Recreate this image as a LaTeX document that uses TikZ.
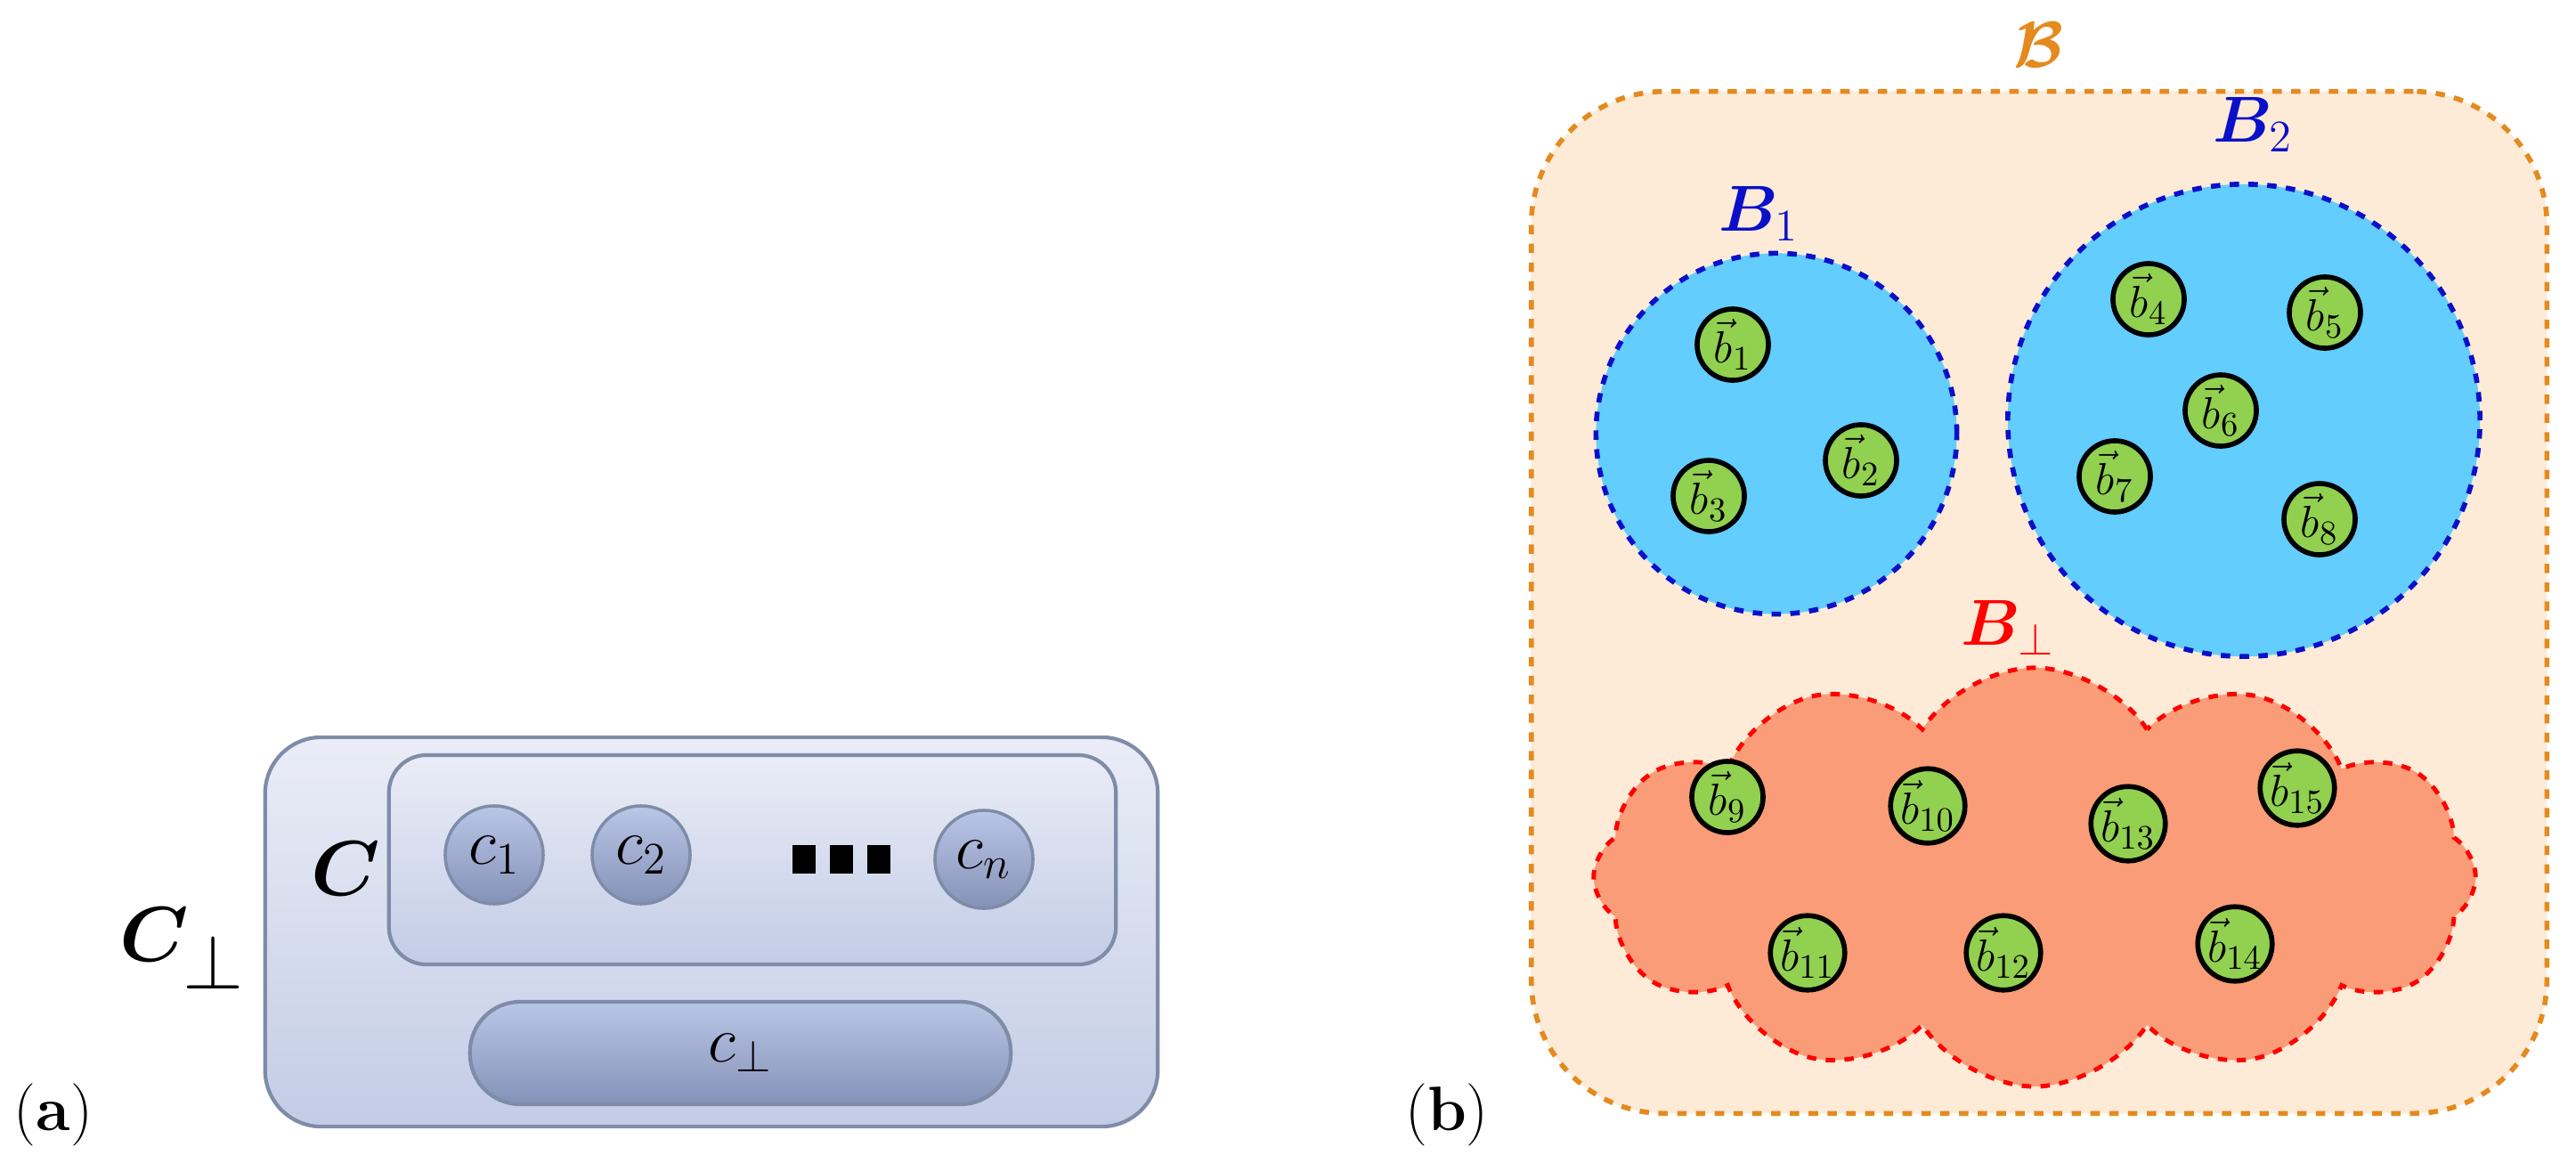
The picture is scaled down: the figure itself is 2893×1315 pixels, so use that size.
\documentclass[tikz,border=0pt]{standalone}
\usepackage{amsmath,bm}
\usetikzlibrary{shapes.symbols,shapes.geometric}
\definecolor{cedge}{HTML}{7F8CA8}
\definecolor{ctop}{HTML}{EAEDF7}
\definecolor{cbot}{HTML}{C3CCE6}
\definecolor{ballt}{HTML}{BAC6E6}
\definecolor{ballb}{HTML}{8592B8}
\definecolor{borange}{HTML}{E58A1E}
\definecolor{bfill}{HTML}{FDEBD7}
\definecolor{bblue}{HTML}{63CDFD}
\definecolor{bdark}{HTML}{0A10C8}
\definecolor{cloudf}{HTML}{FA9C78}
\definecolor{greenb}{HTML}{92D050}
\begin{document}
\begin{tikzpicture}[x=0.01cm,y=-0.01cm,
  box/.style={draw=cedge,line width=1.2pt,rounded corners=18pt,top color=ctop,bottom color=cbot},
  cball/.style={circle,draw=cedge,line width=1pt,top color=ballt,bottom color=ballb,minimum size=1.1cm,inner sep=0pt,font=\fontsize{22}{22}\selectfont},
  bball/.style={circle,draw=black,line width=1.6pt,fill=greenb,minimum size=0.8cm,inner sep=0pt,font=\fontsize{15}{15}\selectfont},
  bset/.style={circle,draw=bdark,dashed,line width=1.6pt,fill=bblue,inner sep=0pt},
  lab/.style={font=\fontsize{20}{20}\selectfont}]
\useasboundingbox (0,0) rectangle (2893,1315);
% panel (a)
\node[box,minimum width=10.02cm,minimum height=4.37cm] (Cp) at (799,1046.5) {};
\node[box,minimum width=8.16cm,minimum height=2.35cm,rounded corners=12pt] (C) at (845,965.5) {};
\node[box,top color=ballt,bottom color=ballb,minimum width=6.07cm,minimum height=1.15cm,rounded corners=16pt,font=\fontsize{22}{22}\selectfont] (cb) at (831.5,1182.5) {$c_\perp$};
\node[cball] (c1) at (555,960) {$c_1$};
\node[cball] (c2) at (720,960) {$c_2$};
\node[inner sep=0pt] (dots) at (945,965) {\rule{2.6mm}{3.2mm}\hspace{1.6mm}\rule{2.6mm}{3.2mm}\hspace{1.6mm}\rule{2.6mm}{3.2mm}};
\node[cball] (cn) at (1105,965) {$c_n$};
\node[font=\fontsize{36}{36}\selectfont] (lC) at (388,975) {$\bm{C}$};
\node[font=\fontsize{36}{36}\selectfont] (lCp) at (205,1065) {$\bm{C}_\perp$};
\node[lab] (la) at (60,1252) {(\textbf{a})};
% panel (b)
\node[lab] (lb) at (1625,1252) {(\textbf{b})};
\node[draw=borange,dashed,line width=1.6pt,fill=bfill,rounded corners=1.5cm,minimum width=11.4cm,minimum height=11.47cm] (Bo) at (2290,676.5) {};
\node[text=borange,font=\fontsize{22}{22}\selectfont] (lB) at (2290,50) {$\bm{\mathcal{B}}$};
\node[bset,minimum size=4.05cm] (B1) at (1995,487) {};
\node[bset,minimum size=5.3cm] (B2) at (2520,472) {};
\node[text=bdark,font=\fontsize{22}{22}\selectfont] (lB1) at (1975,240) {$\bm{B}_1$};
\node[text=bdark,font=\fontsize{22}{22}\selectfont] (lB2) at (2530,140) {$\bm{B}_2$};
\node[cloud,cloud puffs=12,cloud puff arc=115,draw=red,dashed,line width=1.4pt,fill=cloudf,minimum width=9.9cm,minimum height=4.7cm,cloud ignores aspect] (Bp) at (2285,985) {};
\node[text=red,font=\fontsize{22}{22}\selectfont] (lBp) at (2255,705) {$\bm{B}_\perp$};
\foreach \n/\x/\y in {1/1946/387,2/2090/517,3/1919/557,4/2413/336,5/2611/351,6/2494/461,7/2375/535,8/2605/583,9/1940/895,10/2165/905,13/2390/925,15/2580/885,11/2030/1070,12/2250/1070,14/2510/1060}
  \node[bball] (b\n) at (\x,\y) {$\vec{b}_{\n}$};
\end{tikzpicture}
\end{document}
